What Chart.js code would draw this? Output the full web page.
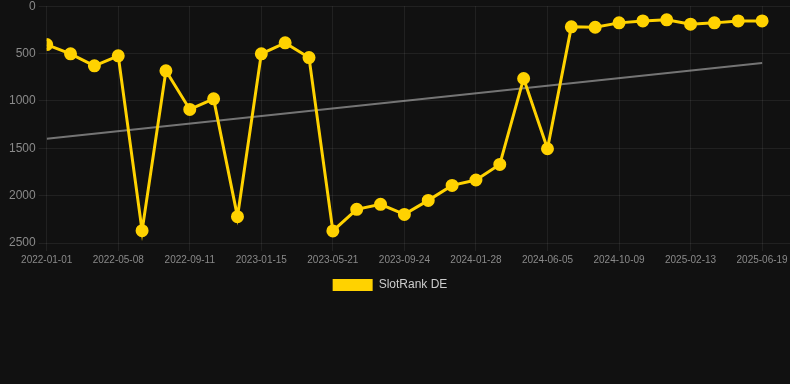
<!DOCTYPE html>
<html lang="en">
<head>
    <meta charset="UTF-8">
    <title>SlotRank DE</title>
    <style>
        html, body {
            margin: 0;
            padding: 0;
            background: #111111;
            overflow: hidden;
        }
        .wrap {
            width: 798px;
            height: 305px;
            margin-top: -4px;
        }
    </style>
    <script src="https://cdn.jsdelivr.net/npm/chart.js"></script>
</head>
<body>
    <div class="wrap"><canvas id="rankChart"></canvas></div>

    <script>
        // Dates (every third one is shown on the axis)
        const dates = [
            '2022-01-01', '2022-02-12', '2022-03-26', '2022-05-08', '2022-06-19', '2022-07-31',
            '2022-09-11', '2022-10-23', '2022-12-04', '2023-01-15', '2023-02-26', '2023-04-09',
            '2023-05-21', '2023-07-02', '2023-08-13', '2023-09-24', '2023-11-05', '2023-12-17',
            '2024-01-28', '2024-03-10', '2024-04-21', '2024-06-05', '2024-07-17', '2024-08-28',
            '2024-10-09', '2024-11-20', '2025-01-01', '2025-02-13', '2025-03-27', '2025-05-08',
            '2025-06-19'
        ];

        // SlotRank DE (lower is better, axis reversed)
        const rankDE = [
            405, 503, 630, 524, 2370, 682, 1090, 978, 2222, 503, 387,
            542, 2373, 2145, 2092, 2198, 2050, 1892, 1835, 1670, 763,
            1505, 218, 222, 176, 155, 144, 190, 176, 155, 155
        ];

        // Trend line end points (index, value)
        const trendIdx = [0, 30];
        const trendVal = [1400, 600];

        const yTicks = [0, 500, 1000, 1500, 2000, 2500];

        const gold = '#FFD200';
        const gridColor = 'rgba(255,255,255,0.07)';
        const tickColor = '#8a8a8a';
        const font = 'Arial, "Liberation Sans", sans-serif';

        // legend sits a little left of centre in the original
        const legendShift = {
            id: 'legendShift',
            afterLayout(chart) {
                chart.legend.left -= 12;
                chart.legend.right -= 12;
            }
        };

        const ctx = document.getElementById('rankChart').getContext('2d');
        new Chart(ctx, {
            type: 'line',
            data: {
                datasets: [
                    {
                        label: 'SlotRank DE',
                        data: rankDE.map((v, i) => ({ x: i, y: v })),
                        borderColor: gold,
                        backgroundColor: gold,
                        borderWidth: 3,
                        pointRadius: 5,
                        pointBackgroundColor: gold,
                        pointBorderColor: gold,
                        tension: 0
                    },
                    {
                        label: 'Trend',
                        data: trendIdx.map((x, i) => ({ x: x, y: trendVal[i] })),
                        borderColor: 'rgba(170,170,170,0.65)',
                        borderWidth: 2,
                        pointRadius: 0,
                        tension: 0
                    }
                ]
            },
            options: {
                responsive: true,
                maintainAspectRatio: false,
                animation: false,
                layout: { padding: { left: 6 } },
                scales: {
                    x: {
                        type: 'linear',
                        min: 0,
                        max: 31.17,
                        grid: { color: gridColor },
                        border: { display: false },
                        ticks: {
                            stepSize: 3,
                            includeBounds: false,
                            maxRotation: 0,
                            autoSkip: false,
                            color: tickColor,
                            font: { family: font, size: 10 },
                            callback: v => dates[v] || ''
                        }
                    },
                    y: {
                        reverse: true,
                        min: yTicks[0],
                        max: yTicks[yTicks.length - 1],
                        grid: { color: gridColor },
                        border: { display: false },
                        ticks: {
                            stepSize: 500,
                            color: tickColor,
                            font: { family: font, size: 12 },
                            callback: v => String(v)
                        }
                    }
                },
                plugins: {
                    legend: {
                        position: 'bottom',
                        labels: {
                            boxWidth: 40,
                            boxHeight: 12,
                            color: '#cccccc',
                            font: { family: font, size: 12 },
                            generateLabels: chart => Chart.defaults.plugins.legend.labels
                                .generateLabels(chart)
                                .filter(item => item.datasetIndex === 0)
                                .map(item => Object.assign(item, { lineWidth: 0 }))
                        }
                    },
                    tooltip: { enabled: false }
                }
            },
            plugins: [legendShift]
        });
    </script>
</body>
</html>
